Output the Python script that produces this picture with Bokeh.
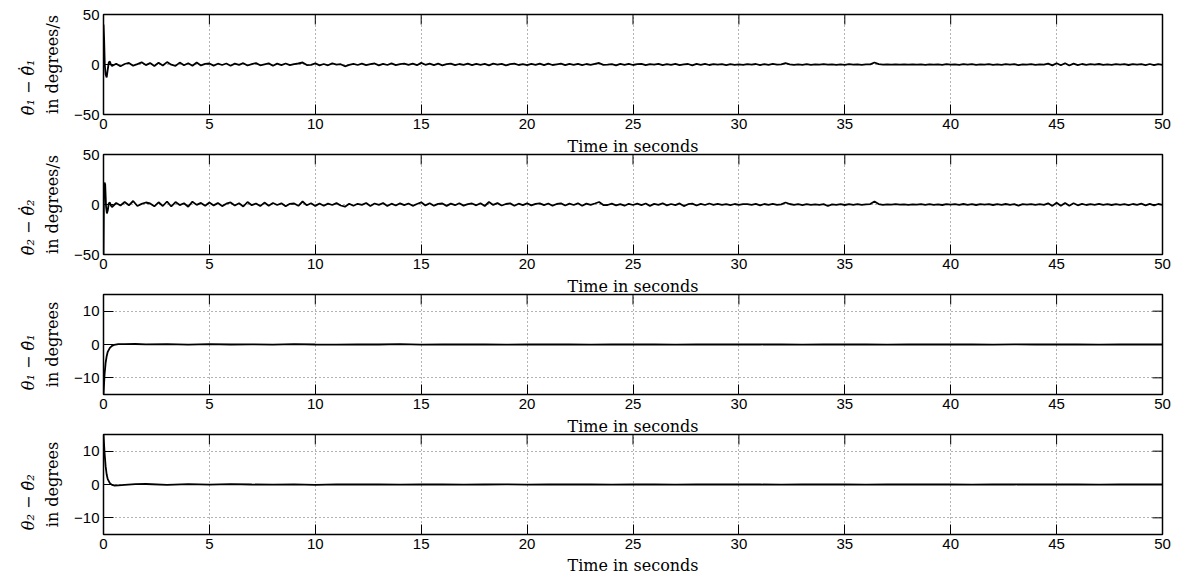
import numpy as np
from bokeh.plotting import figure
from bokeh.models import FixedTicker, Range1d, ColumnDataSource, LinearAxis
from bokeh.layouts import column
from bokeh.embed import file_html
from bokeh.resources import INLINE

# ---------------------------------------------------------------- data
x_ticks = [0, 5, 10, 15, 20, 25, 30, 35, 40, 45, 50]
vel_ticks = [-50, 0, 50]
pos_ticks = [-10, 0, 10]

# angular-velocity estimation error of joint 1 (deg/s)
vel1_start_t = [0.0, 0.03, 0.06, 0.1, 0.15, 0.2, 0.25, 0.3, 0.35]
vel1_start_v = [40, 25, 0, -10, -13, -5, 2, 3, 0]
vel1_tail = [
    -1.5, 0.8, -1.8, 0.5, 1.6, -1.2, 0.4, 2.2, -0.6, 1.4, -1.5, 1.8, -1.0, 2.4, -0.2, -1.4, 1.9, -0.8, 1.2, -1.2, 2.0, -0.9, 0.6, 1.0, -1.1,
    0.8, -0.5, 1.0, -1.2, 0.9, -0.4, 1.3, -1.0, 0.3, 1.4, -0.8, 0.2, 1.1, -1.2, 0.9, -0.6, 1.0, -0.7, 0.4, 1.0, 2.0, -0.6, -0.3, 1.2, -0.9,
    0.5, -0.8, 1.1, -0.2, 0.3, -1.8, -0.4, 0.6, -0.5, 0.9, -0.7, 0.4, 1.0, -0.9, 0.7, -0.5, 1.1, -0.6, 0.3, 0.9, -0.4, 0.8, -0.7, 1.6, -0.3,
    0.9, -0.6, 0.8, -0.8, 0.4, 0.9, -0.7, 0.5, -0.4, 0.8, -0.7, 0.6, -0.3, 0.6, -0.9, 0.8, -0.2, 0.7, -0.8, 0.3, 0.9, -0.5, 0.4, -0.6, 0.7,
    -0.4, 0.9, -0.7, 0.8, -0.5, 0.2, 0.8, -0.7, 0.6, -0.3, 0.7, -0.6, 0.5, -0.4, 0.6, 1.5, -0.3, -0.2, 0.4, -0.8, 0.6, -0.3, 0.7, -0.5, 0.3,
    0.6, -0.7, 0.4, -0.2, 0.7, -0.6, 0.3, -0.4, 0.6, -0.7, 0.2, 0.5, -0.8, 0.6, -0.3, 0.6, -0.5, 0.4, -0.2, 0.3, -0.6, 0.4, -0.3, 0.2, -0.4,
    0.3, -0.2, 0.5, -0.6, 0.4, -0.3, 0.6, -0.2, 0.1, 1.3, 0.2, -0.4, 0.2, -0.3, 0.3, -0.3, 0.2, -0.1, 0.3, -0.2, 0.1, -0.3, 0.2, -0.4, 0.3,
    -0.2, 0.2, -0.3, 0.2, 0.1, 2.0, 0.3, -0.2, 0.1, -0.2, 0.2, -0.1, 0.1, -0.2, 0.1, -0.1, 0.2, -0.3, 0.2, -0.2, 0.1, -0.4, 0.3, -0.1, 0.2,
    -0.3, 0.4, -0.2, 0.3, -0.4, 0.2, -0.1, 0.3, -0.4, 0.2, -0.3, 0.4, -0.2, 0.3, -0.6, 0.2, -0.1, 0.3, -0.3, 0.2, -0.2, 0.8, -0.9, 1.2, -0.8,
    1.3, -1.0, 0.9, -0.6, 0.5, -0.4, 0.3, -0.2, 0.5, -0.3, 0.2, -0.4, 0.3, -0.2, 0.3, -0.5, 0.4, -0.2, 0.3, -0.6, 0.5, -0.7, 0.4, -0.3,
]

# angular-velocity estimation error of joint 2 (deg/s)
vel2_start_t = [0.0, 0.02, 0.05, 0.08, 0.12, 0.16, 0.2, 0.25, 0.3, 0.35]
vel2_start_v = [-50, 10, 22, 20, -2, -9, -6, 1, 2, -1]
vel2_tail = [
    -2.5, 1.5, -1.0, 2.5, -0.8, 3.5, -1.5, 0.6, 2.0, 1.0, -1.8, 2.2, -1.5, 3.0, -2.0, 2.4, -0.6, 1.3, -2.2, 2.8, -0.4, 1.6, -1.3, 2.0, -0.9,
    1.4, -1.6, 0.8, 2.1, -1.0, 1.2, -2.0, 2.5, -0.7, 1.0, -1.6, 1.9, -1.2, 1.5, -0.5, 1.2, -1.8, 0.7, 1.0, -1.3, 3.0, -0.8, 1.2, -1.4, 1.0,
    -1.2, 0.9, -0.5, 1.4, -1.0, -2.2, 0.8, -1.2, 0.7, -0.4, 1.5, -1.6, 1.0, -0.3, 1.4, -1.5, 0.8, -1.0, 1.2, -0.6, 1.0, -1.3, 0.5, 2.2, -0.9,
    1.3, -1.2, 0.6, 1.0, -1.4, 0.9, -0.7, 1.2, -1.1, 0.4, 1.0, -0.8, 1.2, -1.5, 2.5, -0.4, 1.4, -1.0, 0.5, 1.1, -1.3, 0.8, -0.6, 1.2, -0.9,
    0.7, 1.2, -0.6, 1.0, -1.2, 0.5, 1.1, -1.0, 0.8, -0.5, 1.2, -1.3, 0.9, -0.4, 1.0, 2.5, -0.6, -0.5, 0.8, -0.8, 0.4, -1.2, 0.7, -0.5, 0.9,
    -0.6, 1.0, -1.4, 0.6, -0.3, 1.2, -0.9, 0.5, -0.7, 1.1, -1.6, 0.3, 0.8, -1.0, 0.6, -0.5, 1.0, -0.4, 0.6, -0.3, 0.4, -0.6, 0.5, -0.4, 0.3,
    0.4, -0.3, 0.6, -0.8, 0.5, -0.4, 0.7, -0.3, 0.2, 2.0, 0.5, -0.4, 0.3, -0.6, 0.4, -0.3, 0.2, -0.4, 0.3, -1.5, 0.2, -0.4, 0.3, -0.5, 0.4,
    -0.3, 0.3, -0.4, 0.2, 0.4, 3.0, 0.4, -0.3, 0.2, -0.2, 0.3, -0.2, 0.2, -0.3, 0.2, -0.1, 0.3, -0.4, 0.3, -0.3, 0.2, -0.5, 0.4, -0.2, 0.3,
    -0.4, 0.5, -0.3, 0.4, -0.5, 0.3, -0.2, 0.4, -0.5, 0.3, -0.4, 0.5, -0.3, 0.4, -1.2, 0.3, -0.2, 0.4, -0.4, 0.3, -0.3, 1.2, -1.4, 1.8, -1.2,
    1.6, -1.3, 1.2, -0.8, 0.6, -0.5, 0.4, -0.3, 0.6, -0.4, 0.3, -0.5, 0.4, -0.3, 0.4, -0.6, 0.5, -0.3, 0.8, -0.8, 0.6, -0.9, 0.5, -0.4,
]

# angle estimation error of joint 1 (deg)
pos1_start_t = [0.0, 0.05, 0.1, 0.15, 0.2, 0.3, 0.4, 0.5, 0.7, 1.0, 1.5]
pos1_start_v = [-15, -9, -5.5, -3.5, -2.2, -1.0, -0.4, -0.1, 0.1, 0.1, 0.15]
pos1_tail = [
    0.05, 0.1, -0.05, 0.1, 0.0, 0.05, -0.05, 0.1, 0.0, -0.05, 0.05, 0.0, 0.1, -0.05, 0.0, 0.05,
    0.0, -0.05, 0.05, 0.0, 0.05, -0.05, 0.0, 0.05, 0.0, -0.05, 0.0, 0.05, 0.0, 0.0, 0.05, -0.05,
    0.0, 0.05, 0.0, -0.05, 0.0, 0.05, 0.0, 0.0, -0.05, 0.05, 0.0, 0.0, 0.05, -0.05, 0.0, 0.0, 0.0,
]

# angle estimation error of joint 2 (deg)
pos2_start_t = [0.0, 0.05, 0.1, 0.15, 0.2, 0.3, 0.4, 0.5, 0.7, 1.0, 1.5]
pos2_start_v = [15, 9.5, 5.5, 3.0, 1.6, 0.4, -0.1, -0.3, -0.25, -0.1, 0.1]
pos2_tail = [
    0.15, -0.1, 0.1, -0.05, 0.1, 0.0, -0.05, 0.05, -0.1, 0.05, 0.0, 0.05, -0.05, 0.0, 0.05, -0.05,
    0.0, 0.05, -0.05, 0.0, 0.05, 0.0, -0.05, 0.0, 0.05, -0.05, 0.0, 0.0, 0.05, 0.0, -0.05, 0.0,
    0.0, 0.05, -0.05, 0.0, 0.0, 0.05, 0.0, -0.05, 0.0, 0.0, 0.05, 0.0, 0.0, -0.05, 0.0, 0.0, 0.0,
]

x_label = "Time in seconds"


def series(start_t, start_v, tail, t0, t1):
    t = list(start_t) + list(np.linspace(t0, t1, len(tail)))
    return t, list(start_v) + list(tail)


# ---------------------------------------------------------------- styling
TICK_FONT = "Liberation Sans"
LABEL_FONT = "DejaVu Serif"
LABEL_SIZE = "16px"
MINUS = {-50: "\u221250", -10: "\u221210"}
NBSP = "\u00a0"


def style_text_axis(ax, ticks):
    ax.ticker = FixedTicker(ticks=ticks)
    ax.major_tick_in = 10
    ax.major_tick_out = 0
    ax.major_tick_line_color = "black"
    ax.major_tick_line_width = 1
    ax.minor_tick_line_color = None
    ax.axis_line_color = None
    ax.major_label_text_font = TICK_FONT
    ax.major_label_text_font_size = "15px"
    ax.major_label_text_color = "black"
    ax.major_label_standoff = 4


def panel(t, y, yr, yticks, math_label, pad, unit_label, height, top, bottom,
          title=None, own_xlabel=False):
    p = figure(width=1194, height=height, x_range=Range1d(x_ticks[0], x_ticks[-1]),
               y_range=Range1d(*yr), output_backend="svg", toolbar_location=None,
               min_border_left=103, min_border_right=32,
               min_border_top=top, min_border_bottom=bottom)
    p.background_fill_color = "white"
    p.border_fill_color = "white"
    p.outline_line_color = "black"
    p.outline_line_width = 1.5
    p.outline_line_alpha = 1.0

    # the label under the previous panel sits at the top of this one
    if title is not None:
        p.title.text = title
        p.title.align = "center"
        p.title.text_font = LABEL_FONT
        p.title.text_font_size = LABEL_SIZE
        p.title.text_font_style = "normal"
        p.title.text_color = "black"
        p.title.standoff = -3
        p.title.offset = 0

    src = ColumnDataSource(dict(t=t, y=y))
    p.line("t", "y", source=src, line_color="black", line_width=1.8)

    # dotted grid at every tick
    p.xgrid.ticker = FixedTicker(ticks=x_ticks)
    p.ygrid.ticker = FixedTicker(ticks=yticks)
    for g in (p.xgrid, p.ygrid):
        g.grid_line_color = "#666666"
        g.grid_line_dash = "1 3"
        g.grid_line_width = 1

    xa = p.xaxis[0]
    style_text_axis(xa, x_ticks)
    if own_xlabel:
        xa.axis_label = x_label
        xa.axis_label_text_font = LABEL_FONT
        xa.axis_label_text_font_size = LABEL_SIZE
        xa.axis_label_text_font_style = "normal"
        xa.axis_label_text_color = "black"
        xa.axis_label_standoff = 4

    ya = p.yaxis[0]
    style_text_axis(ya, yticks)
    ya.major_label_overrides = MINUS
    ya.axis_label = unit_label
    ya.axis_label_text_font = LABEL_FONT
    ya.axis_label_text_font_size = LABEL_SIZE
    ya.axis_label_text_font_style = "normal"
    ya.axis_label_text_color = "black"
    ya.axis_label_standoff = 9

    # outer left axis carrying only the symbolic label
    sym = LinearAxis(ticker=FixedTicker(ticks=[]), axis_label=math_label + NBSP * pad,
                     axis_line_color=None, major_tick_line_color=None,
                     minor_tick_line_color=None, axis_label_standoff=3)
    sym.axis_label_text_font = LABEL_FONT
    sym.axis_label_text_font_size = LABEL_SIZE
    sym.axis_label_text_font_style = "italic"
    sym.axis_label_text_color = "black"
    p.add_layout(sym, "left")

    # mirrored inward ticks along the top and right edges
    n_x = len(x_ticks)
    p.ray(x=x_ticks, y=[yr[1]] * n_x, length=10, length_units="screen",
          angle=-np.pi / 2, line_color="black", line_width=1)
    n_y = len(yticks)
    p.ray(x=[x_ticks[-1]] * n_y, y=yticks, length=10, length_units="screen",
          angle=np.pi, line_color="black", line_width=1)
    return p


t1, v1 = series(vel1_start_t, vel1_start_v, vel1_tail, 0.4, 50.0)
t2, v2 = series(vel2_start_t, vel2_start_v, vel2_tail, 0.4, 50.0)
t3, v3 = series(pos1_start_t, pos1_start_v, pos1_tail, 2.0, 50.0)
t4, v4 = series(pos2_start_t, pos2_start_v, pos2_tail, 2.0, 50.0)

lab1 = "\u03b8\u0307\u2081 \u2212 \u03b8\u0302\u0307\u2081"
lab2 = "\u03b8\u0307\u2082 \u2212 \u03b8\u0302\u0307\u2082"
lab3 = "\u03b8\u2081 \u2212 \u03b8\u0302\u2081"
lab4 = "\u03b8\u2082 \u2212 \u03b8\u0302\u2082"

p1 = panel(t1, v1, (-50, 50), vel_ticks, lab1, 9, "in degrees/s", 135, 14, 21)
p2 = panel(t2, v2, (-50, 50), vel_ticks, lab2, 9, "in degrees/s", 140, 19, 21, title=x_label)
p3 = panel(t3, v3, (-15, 15), pos_ticks, lab3, 7, "in degrees", 140, 19, 21, title=x_label)
p4 = panel(t4, v4, (-15, 15), pos_ticks, lab4, 7, "in degrees", 169, 19, 50, title=x_label,
           own_xlabel=True)

layout = column(p1, p2, p3, p4, spacing=0)
open("out.html", "w").write(file_html(layout, INLINE))
